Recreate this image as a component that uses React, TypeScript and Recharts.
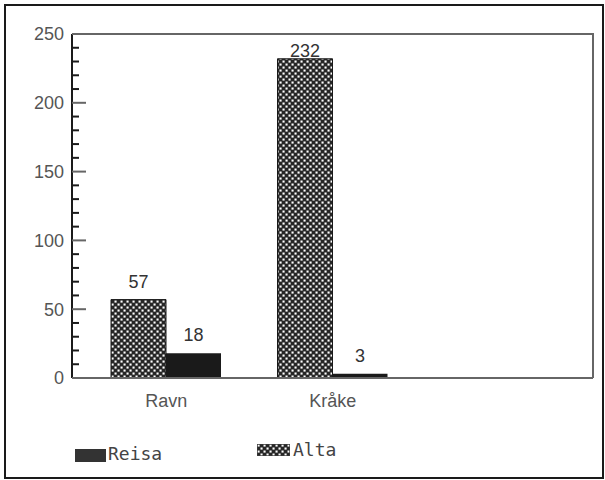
import { BarChart, Bar, XAxis, YAxis, LabelList, usePlotArea } from 'recharts'

const birds = ['Ravn', 'Kråke']
const alta = [57, 232]
const reisa = [18, 3]
const yTicks = [0, 50, 100, 150, 200, 250]
const MINOR_STEP = 10

const data = birds.map((name, i) => ({ name, Alta: alta[i], Reisa: reisa[i] }))

// minor ticks every 10 between the labelled ones
const allTicks: number[] = []
for (let v = yTicks[0]; v <= yTicks[yTicks.length - 1]; v += MINOR_STEP) allTicks.push(v)

const AXIS_GREY = '#666'
const INK = '#1a1a1a'
const LABEL_FONT = '"Liberation Sans", Arial, sans-serif'
const MONO_FONT = '"DejaVu Sans Mono", "Liberation Mono", monospace'
const PLOT_TOP = 34

const YTick = ({ x, y, payload }: any) => {
  const major = yTicks.includes(payload.value)
  const axisX = x + 8
  return (
    <g>
      <line
        x1={axisX}
        x2={axisX + (major ? 14 : 7)}
        y1={y}
        y2={y}
        stroke={major ? AXIS_GREY : INK}
        strokeWidth={2}
      />
      {major && (
        <text
          x={x}
          y={y}
          dy="0.36em"
          textAnchor="end"
          fontSize={18}
          fontFamily={LABEL_FONT}
          fill="#555"
        >
          {payload.value}
        </text>
      )}
    </g>
  )
}

const ValueLabel = ({ x, y, width, value }: any) => {
  // keep the tallest label from running into the frame
  const base = Math.max(y - 12, PLOT_TOP + 23)
  return (
    <text
      x={x + width / 2}
      y={base}
      textAnchor="middle"
      fontSize={18}
      fontFamily={LABEL_FONT}
      fill="#333"
    >
      {value}
    </text>
  )
}

// grey box round the plot area (top and right edges)
const Frame = () => {
  const area = usePlotArea()
  if (!area) return null
  const { x, y, width, height } = area
  return (
    <path
      d={`M${x},${y} H${x + width} V${y + height}`}
      fill="none"
      stroke={AXIS_GREY}
      strokeWidth={2}
    />
  )
}

export default function App() {
  return (
    <div style={{ position: 'absolute', left: 0, top: 0, width: 605, height: 480, background: '#fff' }}>
      <div
        style={{
          position: 'absolute',
          left: 4,
          top: 4,
          width: 600,
          height: 475,
          border: `2px solid ${INK}`,
          boxSizing: 'border-box',
        }}
      />
      <div style={{ position: 'absolute', left: 0, top: 0 }}>
        <BarChart
          width={605}
          height={480}
          data={data}
          margin={{ top: PLOT_TOP, right: 12, left: 0, bottom: 72 }}
          barGap={0}
          barSize={55}
        >
          <defs>
            <pattern id="mesh" width="6" height="6" patternUnits="userSpaceOnUse">
              <rect width="6" height="6" fill="#262626" />
              <rect x="0.5" y="0.5" width="2.1" height="2.1" fill="#fff" />
              <rect x="3.5" y="3.5" width="2.1" height="2.1" fill="#fff" />
            </pattern>
          </defs>
          <Frame />
          <XAxis
            dataKey="name"
            height={30}
            padding={{ left: 11, right: 177 }}
            axisLine={{ stroke: AXIS_GREY, strokeWidth: 2 }}
            tickLine={false}
            tickMargin={10}
            tick={{ fontSize: 18, fontFamily: LABEL_FONT, fill: '#555' }}
          />
          <YAxis
            width={72}
            domain={[0, 250]}
            ticks={allTicks}
            interval={0}
            tickSize={0}
            tickMargin={8}
            axisLine={{ stroke: INK, strokeWidth: 2 }}
            tickLine={false}
            tick={<YTick />}
          />
          <Bar dataKey="Alta" fill="url(#mesh)" stroke={INK} strokeWidth={1} isAnimationActive={false}>
            <LabelList dataKey="Alta" content={<ValueLabel />} />
          </Bar>
          <Bar dataKey="Reisa" fill={INK} isAnimationActive={false}>
            <LabelList dataKey="Reisa" content={<ValueLabel />} />
          </Bar>
        </BarChart>
      </div>
      {/* legend */}
      <div style={{ position: 'absolute', left: 75, top: 443, display: 'flex', alignItems: 'center', fontFamily: MONO_FONT, fontSize: 18, color: '#444' }}>
        <span style={{ display: 'inline-block', width: 31, height: 13, background: '#333', marginTop: 3 }} />
        <span style={{ marginLeft: 2 }}>Reisa</span>
      </div>
      <div style={{ position: 'absolute', left: 257, top: 439, display: 'flex', alignItems: 'center', fontFamily: MONO_FONT, fontSize: 18, color: '#444' }}>
        <svg width={33} height={12} style={{ display: 'block' }}>
          <rect width={33} height={12} fill="url(#mesh)" stroke="#444" strokeWidth={1} />
        </svg>
        <span style={{ marginLeft: 3 }}>Alta</span>
      </div>
    </div>
  )
}
